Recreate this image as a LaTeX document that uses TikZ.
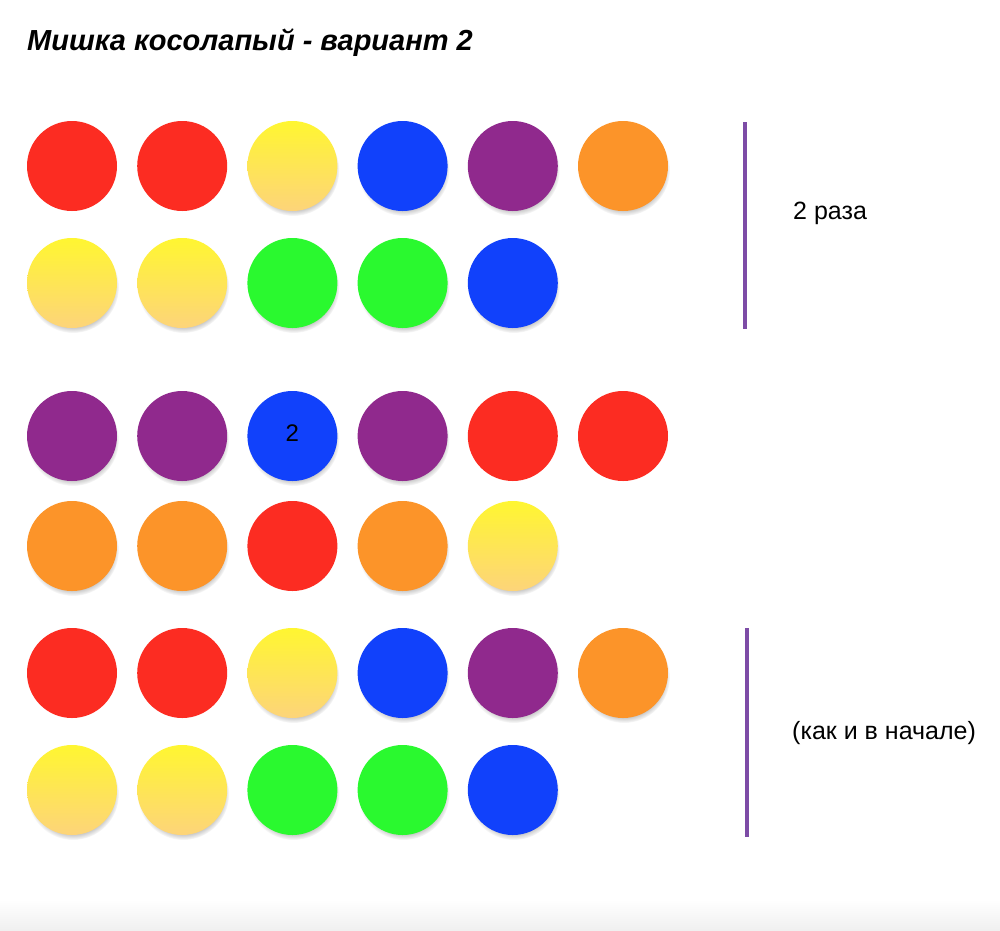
\documentclass[tikz,border=0pt]{standalone}
\usepackage{fontspec}
\setmainfont{Liberation Sans}
\usetikzlibrary{shadows}
\definecolor{cR}{HTML}{FC2C22}
\definecolor{cB}{HTML}{1141FB}
\definecolor{cP}{HTML}{90298D}
\definecolor{cO}{HTML}{FC9429}
\definecolor{cG}{HTML}{2AF92F}
\definecolor{cYt}{HTML}{FFF631}
\definecolor{cYb}{HTML}{FDD47A}
\definecolor{barc}{HTML}{7D4CA6}
\tikzset{
  ball/.style={circle, minimum size=90pt, inner sep=0pt, draw=none},
  shd/.style={circular drop shadow={shadow xshift=1pt, shadow yshift=-4pt, opacity=0.5, shadow scale=1.02}},
  R/.style={ball, fill=cR},
  B/.style={ball, fill=cB, shd},
  P/.style={ball, fill=cP, shd},
  O/.style={ball, fill=cO, shd},
  G/.style={ball, fill=cG, shd},
  Y/.style={ball, top color=cYt, bottom color=cYb, shd},
  bar/.style={draw=barc, line width=4pt},
  lbl/.style={font=\fontsize{25}{30}\selectfont, anchor=west, inner sep=0pt},
  ttl/.style={font=\fontsize{29}{35}\selectfont\bfseries\itshape, anchor=base west, inner sep=0pt},
}
\begin{document}
\begin{tikzpicture}[x=1pt,y=-1pt]
\useasboundingbox (0,0) rectangle (1000,930);
\fill[white] (0,0) rectangle (1000,930);
\shade[top color=white, bottom color=black!6] (0,900) rectangle (1000,930);
\node[ttl] (title) at (27,50) {Мишка косолапый - вариант 2};
% rows
\foreach \c [count=\i] in {R,R,Y,B,P,O}
  \node[\c] (a\i) at ({72+110.2*(\i-1)},166) {};
\foreach \c [count=\i] in {Y,Y,G,G,B}
  \node[\c] (b\i) at ({72+110.2*(\i-1)},283) {};
\foreach \c [count=\i] in {P,P,B,P,R,R}
  \node[\c] (c\i) at ({72+110.2*(\i-1)},436) {};
\foreach \c [count=\i] in {O,O,R,O,Y}
  \node[\c] (d\i) at ({72+110.2*(\i-1)},546) {};
\foreach \c [count=\i] in {R,R,Y,B,P,O}
  \node[\c] (e\i) at ({72+110.2*(\i-1)},673) {};
\foreach \c [count=\i] in {Y,Y,G,G,B}
  \node[\c] (f\i) at ({72+110.2*(\i-1)},790) {};
\node[font=\fontsize{24}{28}\selectfont, inner sep=0pt] (two) at ([yshift=3pt]c3.center) {2};
% bars
\coordinate (t1) at (745,122);
\coordinate (t2) at (745,329);
\coordinate (u1) at (747,628);
\coordinate (u2) at (747,837);
\draw[bar] (t1) -- (t2);
\draw[bar] (u1) -- (u2);
\node[lbl] (l1) at (793,213) {2 раза};
\node[lbl] (l2) at (792,733) {(как и в начале)};
\end{tikzpicture}
\end{document}
